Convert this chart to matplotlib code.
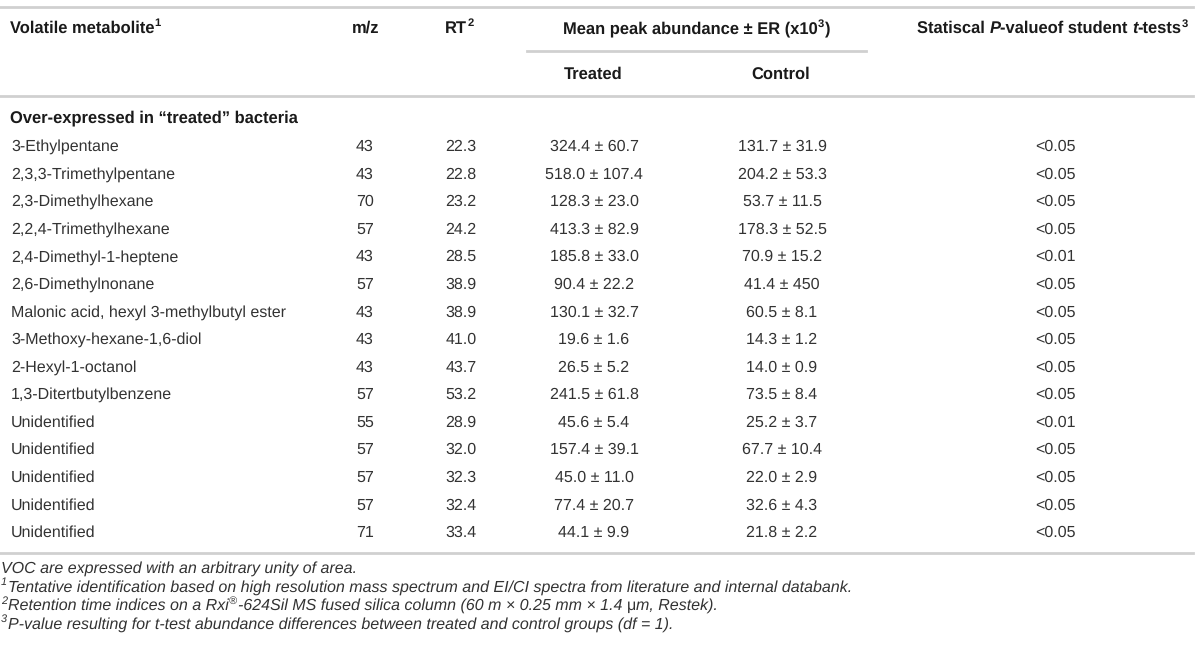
import matplotlib
matplotlib.use("Agg")
import matplotlib.pyplot as plt

plt.rcParams["text.hinting"] = "no_hinting"

# table content
names = ["3-Ethylpentane", "2,3,3-Trimethylpentane", "2,3-Dimethylhexane",
         "2,2,4-Trimethylhexane", "2,4-Dimethyl-1-heptene", "2,6-Dimethylnonane",
         "Malonic acid, hexyl 3-methylbutyl ester", "3-Methoxy-hexane-1,6-diol",
         "2-Hexyl-1-octanol", "1,3-Ditertbutylbenzene", "Unidentified",
         "Unidentified", "Unidentified", "Unidentified", "Unidentified"]
mz = ["43", "43", "70", "57", "43", "57", "43", "43", "43", "57", "55", "57", "57", "57", "71"]
rt = ["22.3", "22.8", "23.2", "24.2", "28.5", "38.9", "38.9", "41.0", "43.7", "53.2",
      "28.9", "32.0", "32.3", "32.4", "33.4"]
treated_mean = ["324.4", "518.0", "128.3", "413.3", "185.8", "90.4", "130.1", "19.6",
                "26.5", "241.5", "45.6", "157.4", "45.0", "77.4", "44.1"]
treated_err = ["60.7", "107.4", "23.0", "82.9", "33.0", "22.2", "32.7", "1.6",
               "5.2", "61.8", "5.4", "39.1", "11.0", "20.7", "9.9"]
control_mean = ["131.7", "204.2", "53.7", "178.3", "70.9", "41.4", "60.5", "14.3",
                "14.0", "73.5", "25.2", "67.7", "22.0", "32.6", "21.8"]
control_err = ["31.9", "53.3", "11.5", "52.5", "15.2", "450", "8.1", "1.2",
               "0.9", "8.4", "3.7", "10.4", "2.9", "4.3", "2.2"]
pvals = ["<0.05", "<0.05", "<0.05", "<0.05", "<0.01", "<0.05", "<0.05", "<0.05",
         "<0.05", "<0.05", "<0.01", "<0.05", "<0.05", "<0.05", "<0.05"]

section = "Over-expressed in \u201ctreated\u201d bacteria"
footnotes = [
    [("VOC are expressed with an arbitrary unity of area.", 0)],
    [("1", 1), ("Tentative identification based on high resolution mass spectrum and EI/CI spectra from literature and internal databank.", 0)],
    [("2", 1), ("Retention time indices on a Rxi", 0), ("\u00ae", 1),
     ("-624Sil MS fused silica column (60 m \u00d7 0.25 mm \u00d7 1.4 ", 0),
     ("\u03bc", 0, "normal"), ("m, Restek).", 0)],
    [("3", 1), ("P-value resulting for t-test abundance differences between treated and control groups (df = 1).", 0)],
]

FONT = "Liberation Sans"
BODY = "#333333"
HEAD = "#1a1a1a"
LINE = "#d0d0d0"

fig = plt.figure(figsize=(12, 6.49), dpi=100)
ax = fig.add_axes([0, 0, 1, 1])
ax.set_xlim(0, 1200)
ax.set_ylim(649, 0)
ax.axis("off")
renderer = fig.canvas.get_renderer()


def runs(x, y, parts, size, weight="normal", style="normal", color=BODY, ha="left"):
    # parts: (text, is_sup) or (text, is_sup, fontstyle)
    texts = []
    total = 0
    for p in parts:
        s, sup = p[0], p[1]
        st = p[2] if len(p) > 2 else style
        fs = size * 0.68 if sup else size
        t = ax.text(0, y - (size * 0.55 if sup else 0), s, fontsize=fs, fontweight=weight,
                    fontstyle=st, family=FONT, color=color, va="baseline", ha="left")
        w = t.get_window_extent(renderer).width
        texts.append((t, w, sup))
        total += w + (1 if sup else 0)
    if ha == "center":
        cx = x - total / 2
    elif ha == "right":
        cx = x - total
    else:
        cx = x
    for t, w, sup in texts:
        t.set_x(cx)
        cx += w + (1 if sup else 0)


# rules
ax.plot([0, 1193], [7, 7], color=LINE, lw=2)
ax.plot([527, 866], [51, 51], color=LINE, lw=2)
ax.plot([0, 1193], [96, 96], color=LINE, lw=2)
ax.plot([0, 1193], [553, 553], color=LINE, lw=2)

hs = 11.9
base = 5
runs(10, 28 + base, [("Volatile metabolite", 0), ("1", 1)], hs, weight="bold", color=HEAD)
runs(366, 28 + base, [("m/z", 0)], hs, weight="bold", color=HEAD, ha="center")
runs(460, 28 + base, [("RT", 0), ("2", 1)], hs, weight="bold", color=HEAD, ha="center")
runs(697, 28 + base, [("Mean peak abundance \u00b1 ER (x10", 0), ("3", 1), (")", 0)],
     hs, weight="bold", color=HEAD, ha="center")
runs(1189, 28 + base, [("Statiscal ", 0), ("P", 0, "italic"), ("-valueof student ", 0),
                       ("t", 0, "italic"), ("-tests", 0), ("3", 1)],
     hs, weight="bold", color=HEAD, ha="right")
runs(593, 74 + base, [("Treated", 0)], hs, weight="bold", color=HEAD, ha="center")
runs(781, 74 + base, [("Control", 0)], hs, weight="bold", color=HEAD, ha="center")
runs(10, 117 + base, [(section, 0)], hs, weight="bold", color=HEAD)

bs = 11.5
y0, dy = 146, 27.57
for i in range(len(names)):
    y = y0 + i * dy + base
    runs(11, y, [(names[i], 0)], bs)
    runs(365, y, [(mz[i], 0)], bs, ha="center")
    runs(461, y, [(rt[i], 0)], bs, ha="center")
    runs(594, y, [(f"{treated_mean[i]} \u00b1 {treated_err[i]}", 0)], bs, ha="center")
    runs(782, y, [(f"{control_mean[i]} \u00b1 {control_err[i]}", 0)], bs, ha="center")
    runs(1055, y, [(pvals[i], 0)], bs, ha="center")

fs = 11.5
for j, parts in enumerate(footnotes):
    runs(1, 568 + j * 18.5 + 5, parts, fs, style="italic")

fig.savefig("out.png", dpi=100)
